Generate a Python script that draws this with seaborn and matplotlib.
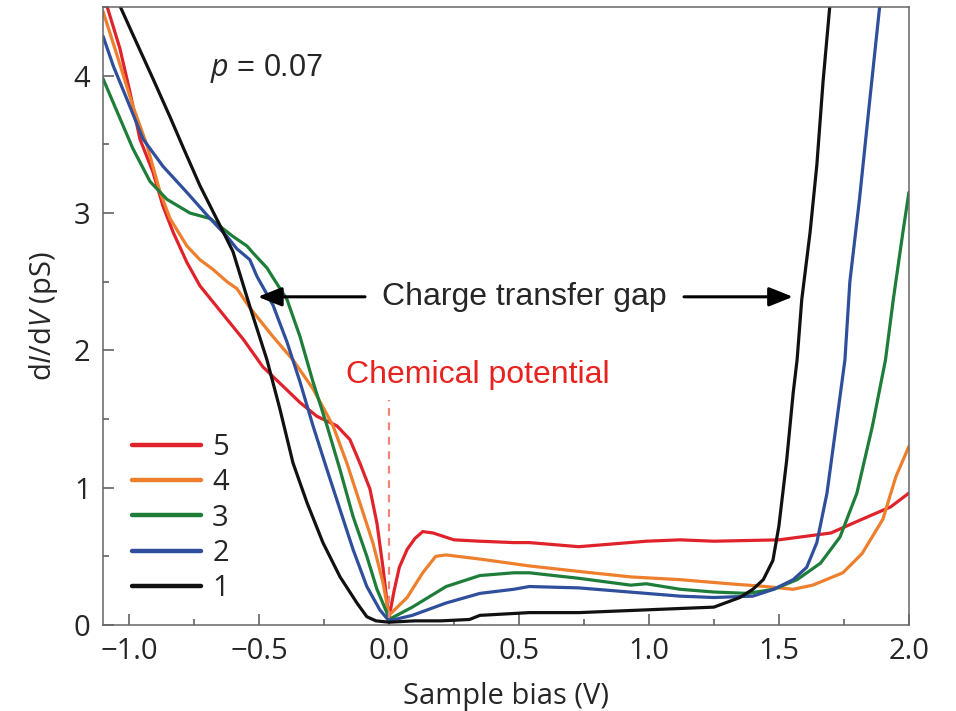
import numpy as np
import pandas as pd
import matplotlib
matplotlib.use('Agg')
import matplotlib.pyplot as plt
import seaborn as sns
from matplotlib.ticker import MultipleLocator
from matplotlib.lines import Line2D

# dI/dV spectra (sample bias in V, dI/dV in pS)
bias_1 = [-1.06, -1.035, -0.985, -0.908, -0.842, -0.792, -0.727, -0.65, -0.60, -0.535, -0.469,
          -0.419, -0.369, -0.315, -0.254, -0.188, -0.123, -0.085, -0.05, 0.0, 0.1, 0.2, 0.31,
          0.35, 0.54, 0.73, 0.99, 1.12, 1.25, 1.35, 1.40, 1.44, 1.477, 1.50, 1.53, 1.555,
          1.57, 1.588, 1.62, 1.646, 1.67, 1.696, 1.72]
didv_1 = [4.7, 4.51, 4.30, 3.98, 3.70, 3.48, 3.20, 2.91, 2.72, 2.32, 1.93,
          1.57, 1.18, 0.89, 0.60, 0.35, 0.16, 0.06, 0.03, 0.02, 0.03, 0.03, 0.04,
          0.07, 0.09, 0.09, 0.11, 0.12, 0.13, 0.20, 0.26, 0.33, 0.47, 0.72, 1.2, 1.69,
          1.93, 2.37, 2.86, 3.35, 3.96, 4.51, 4.9]

bias_2 = [-1.1, -1.06, -1.008, -0.946, -0.869, -0.777, -0.688, -0.623, -0.585, -0.535, -0.508,
          -0.446, -0.392, -0.342, -0.292, -0.238, -0.188, -0.138, -0.085, -0.035, 0.0, 0.09,
          0.22, 0.35, 0.48, 0.54, 0.73, 0.99, 1.12, 1.25, 1.40, 1.48, 1.555, 1.607, 1.646,
          1.685, 1.72, 1.754, 1.773, 1.81, 1.85, 1.888, 1.91]
didv_2 = [4.29, 4.07, 3.83, 3.54, 3.34, 3.15, 2.96, 2.83, 2.74, 2.66, 2.54,
          2.33, 2.06, 1.77, 1.45, 1.13, 0.84, 0.55, 0.28, 0.11, 0.03, 0.07,
          0.16, 0.23, 0.26, 0.28, 0.27, 0.23, 0.21, 0.20, 0.21, 0.26, 0.33, 0.42, 0.60,
          0.96, 1.45, 1.93, 2.50, 3.10, 3.83, 4.51, 4.9]

bias_3 = [-1.1, -1.046, -0.985, -0.919, -0.854, -0.765, -0.688, -0.6, -0.546, -0.523, -0.469,
          -0.446, -0.392, -0.342, -0.292, -0.238, -0.188, -0.138, -0.085, -0.046, -0.008, 0.0,
          0.09, 0.22, 0.35, 0.48, 0.54, 0.73, 0.93, 0.99, 1.12, 1.25, 1.38, 1.48, 1.57, 1.66,
          1.735, 1.8, 1.86, 1.91, 1.94, 1.977, 2.0]
didv_3 = [3.98, 3.74, 3.47, 3.23, 3.10, 3.0, 2.96, 2.83, 2.76, 2.71, 2.60,
          2.53, 2.37, 2.10, 1.77, 1.45, 1.13, 0.79, 0.50, 0.26, 0.09, 0.04,
          0.13, 0.28, 0.36, 0.38, 0.38, 0.34, 0.29, 0.30, 0.26, 0.24, 0.23, 0.26, 0.33, 0.45,
          0.64, 0.96, 1.45, 1.93, 2.37, 2.86, 3.15]

bias_4 = [-1.1, -1.046, -0.985, -0.93, -0.88, -0.842, -0.777, -0.727, -0.677, -0.623, -0.585,
          -0.535, -0.446, -0.369, -0.292, -0.215, -0.162, -0.112, -0.062, -0.023, 0.0, 0.07,
          0.13, 0.18, 0.22, 0.35, 0.54, 0.73, 0.93, 1.12, 1.31, 1.45, 1.555, 1.63, 1.746,
          1.82, 1.9, 1.95, 2.0]
didv_4 = [4.47, 4.15, 3.78, 3.49, 3.15, 2.96, 2.76, 2.66, 2.59, 2.50, 2.45,
          2.31, 2.10, 1.93, 1.72, 1.45, 1.18, 0.89, 0.60, 0.31, 0.07, 0.20,
          0.38, 0.50, 0.51, 0.48, 0.43, 0.39, 0.35, 0.33, 0.30, 0.28, 0.26, 0.29, 0.38,
          0.52, 0.77, 1.08, 1.30]

bias_5 = [-1.11, -1.085, -1.035, -0.996, -0.958, -0.908, -0.869, -0.83, -0.777, -0.727, -0.65,
          -0.56, -0.485, -0.408, -0.342, -0.277, -0.2, -0.15, -0.112, -0.073, -0.046, -0.023,
          0.0, 0.02, 0.04, 0.07, 0.1, 0.13, 0.17, 0.25, 0.35, 0.48, 0.54, 0.73, 0.99, 1.12,
          1.25, 1.50, 1.70, 1.82, 1.93, 2.0]
didv_5 = [4.7, 4.51, 4.2, 3.88, 3.54, 3.30, 3.05, 2.86, 2.64, 2.47, 2.29,
          2.08, 1.88, 1.74, 1.62, 1.52, 1.45, 1.35, 1.18, 0.99, 0.74, 0.42,
          0.05, 0.25, 0.42, 0.55, 0.63, 0.68, 0.67, 0.62, 0.61, 0.60, 0.60, 0.57, 0.61, 0.62,
          0.61, 0.62, 0.67, 0.77, 0.86, 0.96]

curve_labels = ['5', '4', '3', '2', '1']
curve_colors = ['#e0232a', '#ee7f2d', '#1f7d3a', '#2f4f9c', '#111111']
chem_pot = 0.0

sns.set_style('ticks')
plt.rcParams['font.family'] = ['Open Sans', 'DejaVu Sans']
plt.rcParams['mathtext.fontset'] = 'custom'
plt.rcParams['mathtext.rm'] = 'Open Sans'
plt.rcParams['mathtext.it'] = 'Open Sans:italic'

series = {'1': (bias_1, didv_1), '2': (bias_2, didv_2), '3': (bias_3, didv_3),
          '4': (bias_4, didv_4), '5': (bias_5, didv_5)}
frames = []
for lab, (xs, ys) in series.items():
    frames.append(pd.DataFrame({'bias': xs, 'didv': ys, 'curve': lab}))
df = pd.concat(frames, ignore_index=True)

fig = plt.figure(figsize=(9.56, 7.11), dpi=100)
ax = fig.add_axes([0.1077, 0.121, 0.843, 0.869])

sns.lineplot(data=df, x='bias', y='didv', hue='curve', hue_order=curve_labels,
             palette=curve_colors, sort=False, estimator=None, lw=2.3,
             legend=False, ax=ax)

ax.set_xlim(-1.1, 2.0)
ax.set_ylim(0, 4.5)
ax.xaxis.set_major_locator(MultipleLocator(0.5))
ax.xaxis.set_minor_locator(MultipleLocator(0.25))
ax.yaxis.set_major_locator(MultipleLocator(1))
ax.yaxis.set_minor_locator(MultipleLocator(0.5))
ax.tick_params(which='both', direction='in', color='#555555', width=1.1,
               top=False, right=False, labelsize=21)
ax.tick_params(which='major', length=8)
ax.tick_params(which='minor', length=4.5)
ax.tick_params(axis='x', pad=9)
ax.tick_params(axis='y', pad=9)
for sp in ax.spines.values():
    sp.set_color('#666666')
    sp.set_linewidth(1.1)

ax.set_xlabel('Sample bias (V)', fontsize=21, labelpad=11)
ax.set_ylabel(r'd$I$/d$V$ (pS)', fontsize=21, labelpad=10)

# chemical potential marker
ax.vlines(chem_pot, 0.05, 1.64, colors='#f0857a', linestyles=(0, (3.5, 3)), lw=1.6)
ax.text(0.34, 1.82, 'Chemical potential', color='#e8221e', fontsize=23,
        ha='center', va='center', family='Liberation Sans')

# charge transfer gap arrows
arrow_kw = dict(arrowstyle='-|>,head_length=0.5,head_width=0.2', color='black',
                lw=2.2, mutation_scale=29, shrinkA=0, shrinkB=0)
ax.annotate('', xy=(-0.504, 2.39), xytext=(-0.092, 2.39), arrowprops=arrow_kw)
ax.annotate('', xy=(1.554, 2.39), xytext=(1.135, 2.39), arrowprops=arrow_kw)
ax.text(0.52, 2.39, 'Charge transfer gap', fontsize=23, ha='center', va='center',
        family='Liberation Sans')

ax.text(-0.688, 4.05, r'$p$ = 0.07', fontsize=22, va='center', family='Liberation Sans')

handles = [Line2D([], [], color=c, lw=3.2) for c in curve_colors]
ax.legend(handles, curve_labels, loc='upper left', bbox_to_anchor=(0.036, 0.311),
          frameon=False, fontsize=21, handlelength=2.35, handletextpad=0.4,
          labelspacing=0.22, borderpad=0, borderaxespad=0)

fig.savefig('out.png', dpi=100)
